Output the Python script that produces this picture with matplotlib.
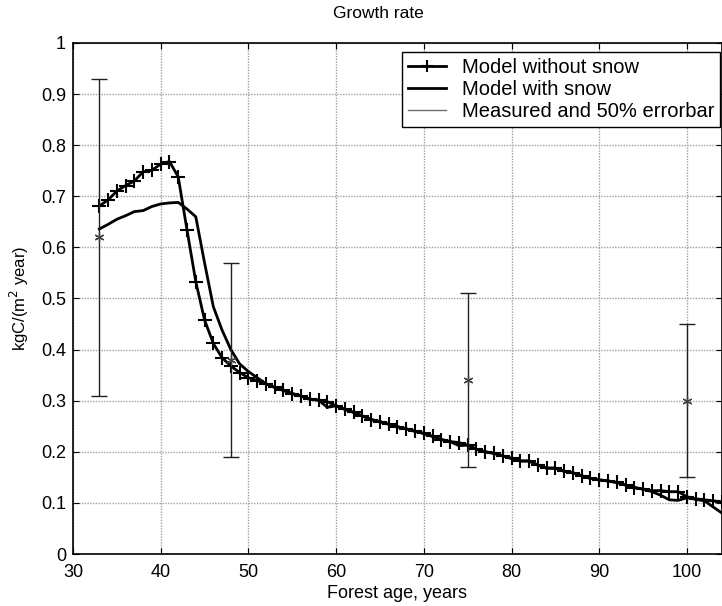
import matplotlib
matplotlib.use('Agg')
import matplotlib.pyplot as plt
import numpy as np

plt.rcParams['font.family'] = ['Liberation Sans', 'DejaVu Sans']

age = np.arange(33, 105)

no_snow = [0.681, 0.693, 0.710, 0.721, 0.730, 0.748, 0.751, 0.763, 0.768,
           0.738, 0.634, 0.533, 0.458, 0.412, 0.384, 0.368, 0.355, 0.345,
           0.339, 0.333, 0.326, 0.320, 0.314, 0.309, 0.303, 0.301, 0.298,
           0.290, 0.283, 0.277, 0.270, 0.263, 0.259, 0.254, 0.249, 0.245,
           0.240, 0.236, 0.230, 0.224, 0.220, 0.218, 0.213, 0.205, 0.200,
           0.197, 0.192, 0.187, 0.182, 0.182, 0.174, 0.168, 0.168, 0.162,
           0.159, 0.153, 0.148, 0.145, 0.143, 0.140, 0.135, 0.130, 0.127,
           0.124, 0.124, 0.122, 0.122, 0.112, 0.108, 0.106, 0.104, 0.102]

with_snow = [0.636, 0.645, 0.655, 0.662, 0.670, 0.672, 0.680, 0.685, 0.687,
             0.688, 0.675, 0.660, 0.570, 0.484, 0.438, 0.400, 0.372, 0.357,
             0.345, 0.333, 0.326, 0.320, 0.314, 0.309, 0.303, 0.301, 0.287,
             0.290, 0.283, 0.277, 0.270, 0.263, 0.259, 0.254, 0.249, 0.245,
             0.240, 0.236, 0.230, 0.224, 0.220, 0.212, 0.213, 0.205, 0.200,
             0.197, 0.192, 0.187, 0.182, 0.182, 0.174, 0.168, 0.168, 0.162,
             0.159, 0.153, 0.148, 0.145, 0.143, 0.140, 0.135, 0.130, 0.127,
             0.122, 0.115, 0.106, 0.105, 0.110, 0.107, 0.104, 0.092, 0.080]

meas_age = [33, 48, 75, 100]
meas_val = [0.62, 0.38, 0.34, 0.30]
meas_lo = [0.31, 0.19, 0.17, 0.15]
meas_hi = [0.93, 0.57, 0.51, 0.45]

fig = plt.figure(figsize=(7.22, 6.06), dpi=100)
ax = fig.add_axes([0.1011, 0.0858, 0.8989, 0.8433])

ax.plot(age, no_snow, color='black', linewidth=2.0, marker='+',
        markersize=10, markeredgewidth=1.5, label='Model without snow')
ax.plot(age, with_snow, color='black', linewidth=2.0,
        label='Model with snow')
err = [np.subtract(meas_val, meas_lo), np.subtract(meas_hi, meas_val)]
ax.errorbar(meas_age, meas_val, yerr=err, fmt='none', ecolor='#202020',
            elinewidth=1.0, capsize=6, capthick=1.0)
ax.plot(meas_age, meas_val, linestyle='none', marker=(6, 2, 0),
        markersize=7, markeredgewidth=0.9, color='#404040')
ax.plot([], [], color='#707070', linewidth=1.0,
        label='Measured and 50% errorbar')

ax.set_xlim(30, 104)
ax.set_ylim(0, 1)
ax.set_xticks(np.arange(30, 101, 10))
ax.set_yticks(np.arange(0, 1.01, 0.1))
ax.set_yticklabels(['0', '0.1', '0.2', '0.3', '0.4', '0.5', '0.6', '0.7',
                    '0.8', '0.9', '1'])
ax.tick_params(direction='in', length=4, labelsize=13, top=True, right=True,
               pad=5)
ax.tick_params(axis='x', pad=7)
ax.grid(True, color='#a0a0a0', linestyle=(0, (1, 1)), linewidth=1.0)
for s in ax.spines.values():
    s.set_linewidth(1.2)

ax.set_title('Growth rate', fontsize=12.5, pad=18, x=0.47)
ax.set_xlabel('Forest age, years', fontsize=13, labelpad=3)
ax.set_ylabel('kgC/(m$^2$ year)', fontsize=12, labelpad=7)

leg = ax.legend(loc='upper right', bbox_to_anchor=(0.997, 0.982),
                borderaxespad=0, fancybox=False, edgecolor='black',
                framealpha=1, fontsize=14.5, handlelength=1.9,
                handletextpad=0.75, labelspacing=0.15, borderpad=0.3,
                markerscale=0.8)
leg.get_frame().set_linewidth(1.0)

fig.savefig('out.png', dpi=100)
